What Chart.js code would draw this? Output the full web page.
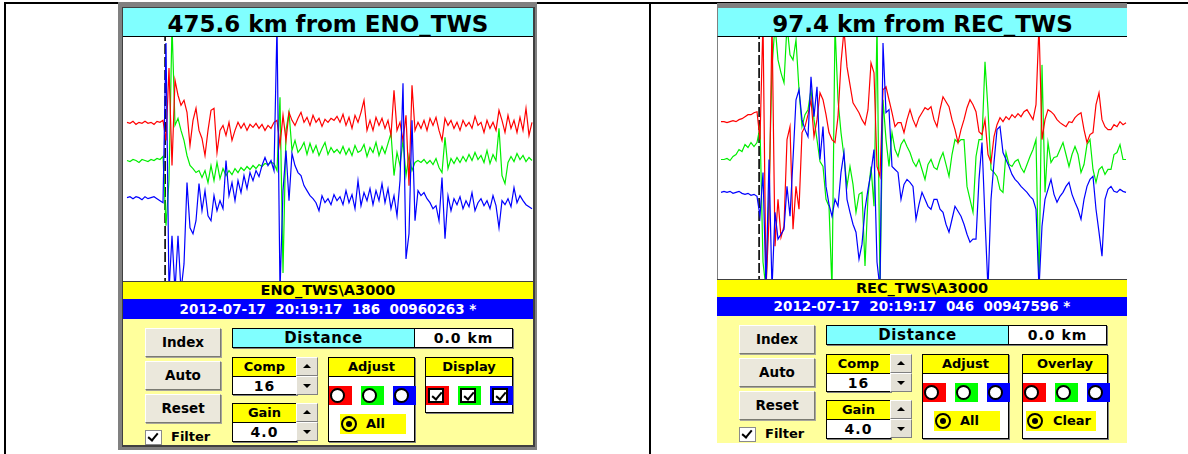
<!DOCTYPE html>
<html>
<head>
<meta charset="utf-8">
<title>Seismogram viewers</title>
<script src="https://cdn.jsdelivr.net/npm/chart.js@4.4.1/dist/chart.umd.min.js"></script>
<style>
*{box-sizing:border-box}
html,body{margin:0;padding:0}
body{width:1188px;height:454px;position:relative;overflow:hidden;background:#fff;
  font-family:"DejaVu Sans",Verdana,sans-serif;font-weight:bold;color:#000}
.rule{position:absolute;background:#000}
.abs{position:absolute}
.panel{position:absolute;overflow:hidden;background:#ffff9c}
.hdr{position:absolute;left:0;top:0;width:100%;height:29px;background:#80ffff;border-bottom:1px solid #000;
  text-align:center;font-size:23px;line-height:28px;white-space:nowrap}
.hdr span{position:relative;top:2px}
.plot{position:absolute;left:0;top:29px;width:100%;background:#fff}
.plot canvas{display:block}
.sep{position:absolute;left:0;width:100%;height:1px;background:#404040}
.stn{position:absolute;left:0;width:100%;height:17px;background:#ffff00;text-align:center;font-size:14.5px;line-height:17px}
.stat{position:absolute;left:0;width:100%;background:#0000ff;color:#fff;text-align:center;font-size:13.5px;white-space:pre}
.ctrl{position:absolute;left:0;width:100%;bottom:0;background:#ffff9c}
.btn{position:absolute;left:22px;width:76px;height:29px;background:#ebe8dc;border:1px solid;
  border-color:#fff #7a7a72 #7a7a72 #fff;box-shadow:1px 1px 0 #a8a69c;text-align:center;font-size:13.5px;line-height:27px}
.cb{position:absolute;left:22px;top:111px;width:17px;height:15px;background:#fff;border:1px solid #8a8a8a}
.tick::after{content:"";position:absolute;left:4px;top:0px;width:4px;height:8px;border:solid #000;border-width:0 2px 2px 0;transform:rotate(40deg)}
.flt{position:absolute;left:48px;top:110px;font-size:13px;line-height:16px}
.dist{position:absolute;left:109px;top:9px;width:183px;height:20px;background:#80ffff;border:1px solid #000;
  font-size:15px;letter-spacing:0.6px;text-align:center;line-height:18px;box-shadow:1px 1px 0 #808080}
.km{position:absolute;left:291px;top:9px;width:99px;height:20px;background:#fff;border:1px solid #000;
  text-align:center;font-size:14px;letter-spacing:1px;line-height:18px;box-shadow:1px 1px 0 #808080}
.grp{position:absolute;background:#fff;border:1px solid #000;box-shadow:1px 1px 0 #808080}
.gh{position:absolute;left:0;top:0;width:100%;height:19px;background:#ffff00;border-bottom:1px solid #000;
  text-align:center;font-size:13px;line-height:18px}
.gv{position:absolute;left:0;top:19px;width:100%;text-align:center;font-size:14px;letter-spacing:1px;line-height:18px}
.spin{position:absolute;width:22px;height:19px;background:#e4e1d6;border:1px solid;border-color:#fff #808080 #808080 #fff}
.up::after,.dn::after{content:"";position:absolute;left:6px;width:0;height:0;border-left:4px solid transparent;border-right:4px solid transparent}
.up::after{top:6px;border-bottom:4px solid #000}
.dn::after{top:7px;border-top:4px solid #000}
.sq{position:absolute;top:28px;height:19px}
.rad{position:absolute;left:1px;top:2px;width:15px;height:15px;border-radius:50%;background:#fff;border:2px solid #000}
.box{position:absolute;left:2px;top:2px;width:16px;height:15px;background:#fff;border:2px solid #000}
.opt{position:absolute;top:56px;height:20px;background:#ffff00;font-size:13px;line-height:20px}
.dot{position:absolute;left:1px;top:2px;width:16px;height:16px;border-radius:50%;border:2px solid #000;background:#ffff00}
.dot::after{content:"";position:absolute;left:3px;top:3px;width:6px;height:6px;border-radius:50%;background:#000}
.opt b{position:absolute;top:0}
</style>
</head>
<body>
<div class="rule" style="left:4px;top:2px;width:1184px;height:2px"></div>
<div class="rule" style="left:4px;top:2px;width:2px;height:452px"></div>
<div class="rule" style="left:649px;top:2px;width:2px;height:452px"></div>
<!-- window frame of the left viewer -->
<div class="abs" style="left:118px;top:2px;width:419px;height:448px;background:#808080"></div>
<div class="abs" style="left:122px;top:7px;width:413px;height:440px;background:#404040"></div>
<!-- top edge and left edge of the right viewer -->
<div class="abs" style="left:717px;top:3px;width:410px;height:5px;background:#808080"></div>
<div class="abs" style="left:717px;top:8px;width:1px;height:272px;background:#808080"></div>

<script>
// Samples per trace, and the sample where the phase pick (dashed line) sits
const sampleCount = 136;
const pickSample = 12.7;
const ampMin = 0, ampMax = 243;

// ENO_TWS — three components (red, green, blue traces)
const enoComp1 = [158,157,159,156,158,157,159,157,158,156,159,158,160,
  140,212,115,200,185,175,180,168,
  135,160,172,150,142,125,150,170,172,128,
  150,155,145,158,140,150,158,152,157,150,
  156,153,157,152,156,150,155,152,158,160,
  135,165,140,168,160,155,162,168,158,163,
  155,165,158,162,154,161,158,162,160,164,
  158,166,155,163,152,165,158,168,180,150,
  160,150,163,155,162,152,160,145,190,150,
  158,140,165,95,195,150,158,152,160,150,
  162,155,163,150,140,162,155,160,152,158,
  150,160,154,158,152,164,155,158,148,160,
  152,158,150,170,160,148,165,152,160,148,
  163,150,172,145,158];
const enoComp2 = [120,119,121,120,118,121,120,119,121,120,122,121,124,
  55,100,255,155,162,150,140,125,
  115,112,108,110,103,110,98,115,100,118,
  102,112,105,110,106,112,108,113,110,114,
  111,115,112,116,114,117,116,118,117,110,
  183,8,150,168,130,140,128,132,138,126,
  137,128,135,125,132,138,126,133,128,131,
  127,134,126,132,125,135,128,130,136,124,
  133,128,138,125,134,127,137,147,105,128,
  115,140,105,125,110,118,120,118,121,117,
  120,116,122,113,108,143,112,122,117,123,
  118,124,119,126,120,128,121,125,118,130,
  117,126,120,152,105,97,118,124,119,127,
  121,125,119,123,120];
const enoComp3 = [83,84,82,84,83,81,84,82,83,84,82,80,78,
  237,-10,45,-10,45,-10,17,98,
  53,47,60,97,70,90,65,60,85,70,
  80,72,120,85,98,80,100,88,105,92,
  108,100,110,104,115,123,115,120,110,255,
  -10,90,130,80,127,115,108,105,95,90,
  85,82,78,70,85,78,82,76,86,80,
  84,76,90,78,86,72,100,75,88,80,
  92,76,90,80,97,78,92,72,85,65,
  100,197,22,47,160,60,90,85,88,82,
  78,72,75,60,103,42,85,70,82,76,
  84,72,80,74,88,70,78,82,75,80,
  72,85,75,53,80,76,82,74,93,78,
  85,80,76,74,72];

// REC_TWS — three components (red, green, blue traces)
const recComp1 = [158,158,157,158,159,158,160,161,163,165,165,167,168,
  140,260,-10,60,260,33,80,42,
  53,140,153,50,93,70,147,153,165,180,
  143,160,187,180,165,147,140,137,163,217,
  250,213,195,177,172,167,160,155,170,217,
  207,113,103,190,193,180,167,153,157,157,
  147,160,170,160,153,162,167,172,170,173,
  160,153,170,183,178,173,160,150,137,150,
  160,172,180,175,168,148,145,160,125,117,
  143,155,162,158,163,160,165,162,166,163,
  168,170,165,160,175,255,140,160,170,168,
  165,160,157,155,153,158,157,162,165,167,
  150,137,145,147,175,187,160,153,150,150,
  155,153,158,155,157];
const recComp2 = [120,120,121,119,123,125,130,128,135,132,137,133,137,
  153,17,-10,87,213,255,220,207,
  197,255,225,220,240,190,153,165,170,190,
  160,140,118,113,80,73,-10,255,180,147,
  123,93,113,95,67,85,87,13,83,113,
  73,255,-10,180,140,113,147,130,123,135,
  140,133,127,118,113,120,110,100,115,120,
  112,110,120,127,115,103,125,140,137,140,
  140,93,80,67,123,140,140,218,170,110,
  107,103,90,87,127,115,113,118,120,112,
  107,115,123,130,140,-10,215,87,137,117,
  122,123,130,137,125,113,125,133,125,107,
  115,135,140,110,97,110,113,105,110,110,
  125,127,135,120,120];
const recComp3 = [87,88,87,88,86,87,88,86,85,86,84,85,83,
  63,107,-10,120,-10,67,40,45,
  50,93,63,120,180,190,160,150,143,203,
  163,193,120,153,93,75,63,80,73,107,
  127,80,67,55,47,20,35,70,90,107,
  130,17,-10,237,167,170,113,110,107,80,
  95,100,97,93,60,75,87,80,73,70,
  80,80,70,67,55,47,60,73,68,63,
  55,45,37,40,40,100,137,60,-10,80,
  117,150,153,127,120,113,105,100,97,93,
  90,87,83,80,70,-10,53,80,90,100,
  85,77,83,87,93,97,85,77,70,60,
  80,93,100,103,70,47,23,80,90,93,
  88,87,90,88,87];

const traceColors = ['#0000ff', '#ff0000', '#00ee00'];

function buildPanel(p) {
  const el = document.createElement('div');
  el.className = 'panel';
  el.style.cssText = `left:${p.left}px;top:${p.top}px;width:${p.width}px;height:${p.height}px`;
  const sepTop = 29 + p.chartH;
  const stnTop = sepTop + 1;
  const statTop = stnTop + 17;
  const ctrlTop = statTop + p.statH;
  const squares = (inner) => `
      <div class="sq" style="left:0;width:23px;background:#ff0000">${inner}</div>
      <div class="sq" style="left:32px;width:23px;background:#00ff00">${inner}</div>
      <div class="sq" style="left:64px;width:23px;background:#0000ff">${inner}</div>`;
  const third = p.overlay
    ? `<div class="grp" style="left:305px;top:38px;width:86px;height:85px">
         <div class="gh">Overlay</div>${squares('<div class="rad"></div>')}
         <div class="opt" style="left:3px;width:70px"><div class="dot"></div><b style="left:27px">Clear</b></div>
       </div>`
    : `<div class="grp" style="left:302px;top:38px;width:88px;height:56px">
         <div class="gh">Display</div>${squares('<div class="box tick"></div>')}
       </div>`;
  el.innerHTML = `
    <div class="hdr" style="${p.edge ? 'border-left:1px solid #808080' : ''}"><span>${p.title}</span></div>
    <div class="plot" style="height:${p.chartH}px;${p.edge ? 'border-left:1px solid #808080' : ''}">
      <canvas width="${p.width - (p.edge ? 1 : 0)}" height="${p.chartH}"></canvas></div>
    <div class="sep" style="top:${sepTop}px"></div>
    <div class="stn" style="top:${stnTop}px">${p.station}</div>
    <div class="stat" style="top:${statTop}px;height:${p.statH}px;line-height:${p.statH}px">${p.status}</div>
    <div class="ctrl" style="top:${ctrlTop}px">
      <div class="btn" style="top:9px">Index</div>
      <div class="btn" style="top:42px">Auto</div>
      <div class="btn" style="top:75px">Reset</div>
      <div class="cb tick"></div><div class="flt">Filter</div>
      <div class="dist">Distance</div>
      <div class="km">0.0 km</div>
      <div class="grp" style="left:109px;top:38px;width:65px;height:38px"><div class="gh">Comp</div><div class="gv">16</div></div>
      <div class="spin up" style="left:173px;top:38px"></div>
      <div class="spin dn" style="left:173px;top:57px"></div>
      <div class="grp" style="left:109px;top:84px;width:65px;height:39px"><div class="gh">Gain</div><div class="gv">4.0</div></div>
      <div class="spin up" style="left:173px;top:84px"></div>
      <div class="spin dn" style="left:173px;top:103px"></div>
      <div class="grp" style="left:205px;top:38px;width:87px;height:85px">
        <div class="gh">Adjust</div>${squares('<div class="rad"></div>')}
        <div class="opt" style="left:11px;width:66px"><div class="dot"></div><b style="left:26px">All</b></div>
      </div>
      ${third}
    </div>`;
  document.body.appendChild(el);
  return el.querySelector('canvas');
}

function drawTraces(canvas, comps, xStart) {
  const xEnd = xStart + canvas.width / 3;
  const toPoints = (arr) => arr.map((v, i) => ({ x: i, y: v }));
  const order = [comps[2], comps[0], comps[1]];
  const datasets = order.map((arr, k) => ({
    data: toPoints(arr),
    borderColor: traceColors[k],
    borderWidth: 1.2,
    pointRadius: 0,
    tension: 0
  }));
  datasets.push({
    data: [{ x: pickSample, y: ampMin - 20 }, { x: pickSample, y: ampMax + 20 }],
    borderColor: '#000',
    borderWidth: 1.6,
    borderDash: [10, 3],
    pointRadius: 0
  });
  new Chart(canvas, {
    type: 'line',
    data: { datasets },
    options: {
      responsive: false,
      animation: false,
      devicePixelRatio: 1,
      events: [],
      layout: { padding: 0 },
      plugins: { legend: { display: false }, tooltip: { enabled: false } },
      scales: {
        x: { type: 'linear', display: false, min: xStart, max: xEnd },
        y: { type: 'linear', display: false, min: ampMin, max: ampMax }
      }
    }
  });
}

const enoCanvas = buildPanel({
  left: 123, top: 8, width: 410, height: 437, chartH: 244, statH: 20, edge: false, overlay: false,
  title: '475.6 km from ENO_TWS', station: 'ENO_TWS\\A3000',
  status: '2012-07-17  20:19:17  186  00960263 *'
});
const recCanvas = buildPanel({
  left: 717, top: 8, width: 410, height: 435, chartH: 242, statH: 19, edge: true, overlay: true,
  title: '97.4 km from REC_TWS', station: 'REC_TWS\\A3000',
  status: '2012-07-17  20:19:17  046  00947596 *'
});

drawTraces(enoCanvas, [enoComp1, enoComp2, enoComp3], -4 / 3);
drawTraces(recCanvas, [recComp1, recComp2, recComp3], -1);
</script>
</body>
</html>
